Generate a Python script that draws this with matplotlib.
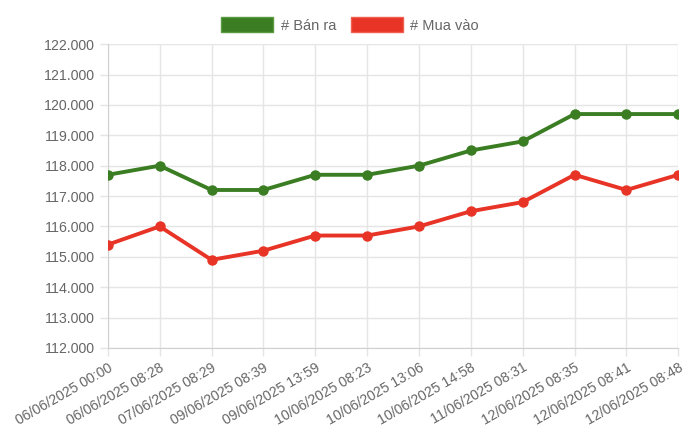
import matplotlib.pyplot as plt
from matplotlib.ticker import FuncFormatter
from matplotlib.patches import Patch

labels = ["06/06/2025 00:00", "06/06/2025 08:28", "07/06/2025 08:29",
          "09/06/2025 08:39", "09/06/2025 13:59", "10/06/2025 08:23",
          "10/06/2025 13:06", "10/06/2025 14:58", "11/06/2025 08:31",
          "12/06/2025 08:35", "12/06/2025 08:41", "12/06/2025 08:48"]
ban_ra = [117700, 118000, 117200, 117200, 117700, 117700,
          118000, 118500, 118800, 119700, 119700, 119700]
mua_vao = [115400, 116000, 114900, 115200, 115700, 115700,
           116000, 116500, 116800, 117700, 117200, 117700]

green = "#3a7d23"
red = "#e83426"

plt.rcParams["font.family"] = ["Liberation Sans", "DejaVu Sans"]
fig = plt.figure(figsize=(7, 4.29), dpi=100)
ax = fig.add_axes([0.154, 0.189, 0.815, 0.708])

x = range(len(labels))
ax.plot(x, ban_ra, color=green, lw=2.8, marker="o", ms=6.5, zorder=3)
ax.plot(x, mua_vao, color=red, lw=2.8, marker="o", ms=6.5, zorder=3)

ax.set_xlim(0, len(labels) - 1)
ax.set_ylim(112000, 122000)
ax.set_yticks(range(112000, 122001, 1000))
ax.yaxis.set_major_formatter(FuncFormatter(lambda v, p: f"{v:,.0f}".replace(",", ".")))
ax.set_xticks(list(x))
ax.set_xticklabels(labels, rotation=30, ha="right", rotation_mode="anchor")

ax.grid(True, color="#e5e5e5", lw=1)
ax.set_axisbelow(True)
for s in ax.spines.values():
    s.set_visible(False)
ax.spines["left"].set_visible(True)
ax.spines["bottom"].set_visible(True)
ax.spines["left"].set_color("#d0d0d0")
ax.spines["bottom"].set_color("#d0d0d0")
ax.tick_params(colors="#666666", labelsize=10.2, length=6, width=1)
ax.tick_params(axis="both", color="#e5e5e5")
ax.tick_params(axis="x", pad=3)

handles = [Patch(facecolor=green, edgecolor="#5a9a40", label="# Bán ra"),
           Patch(facecolor=red, edgecolor="#f06050", label="# Mua vào")]
leg = fig.legend(handles=handles, loc="upper center", bbox_to_anchor=(0.5, 0.99),
                 ncol=2, frameon=False, handlelength=3.6, handleheight=1.2,
                 handletextpad=0.5, columnspacing=1.0, fontsize=10.5)
for t in leg.get_texts():
    t.set_color("#666666")

fig.savefig("out.png", dpi=100)
